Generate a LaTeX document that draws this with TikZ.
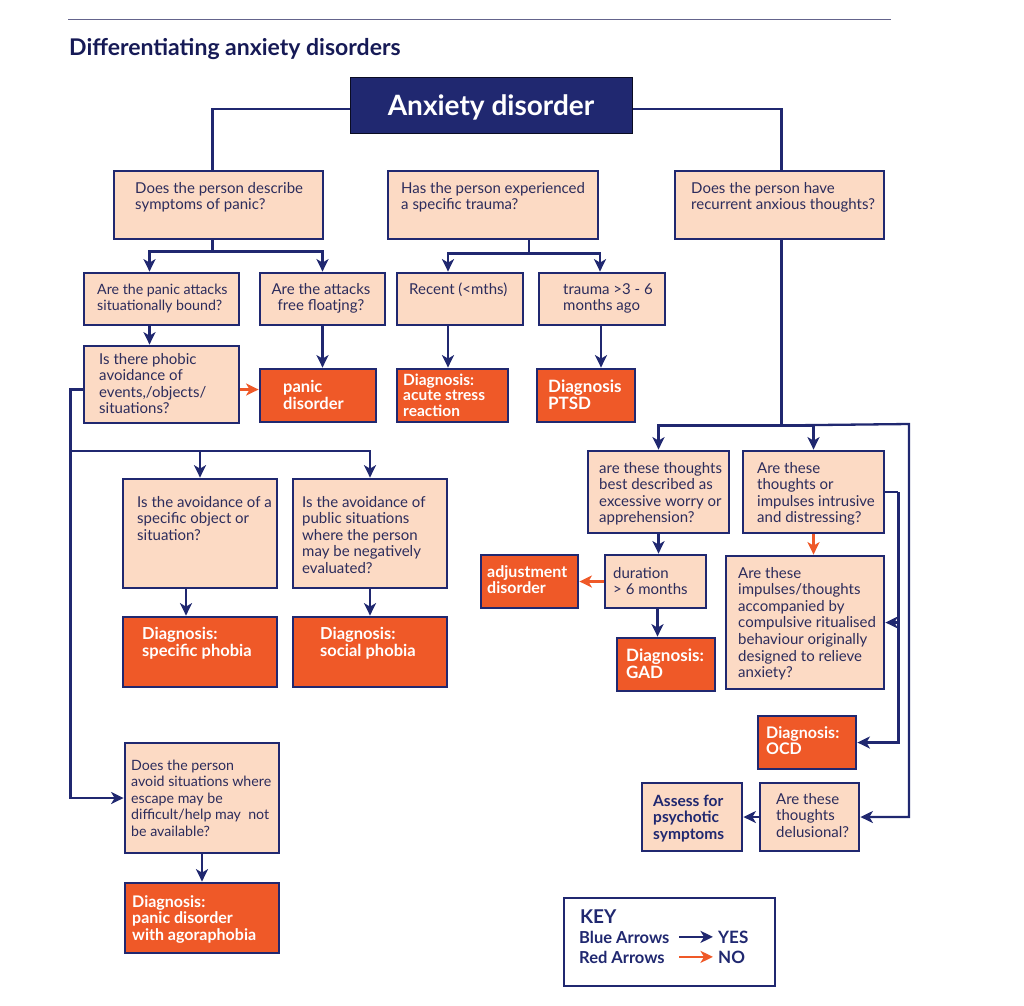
\documentclass[tikz,border=0pt]{standalone}
\usepackage{fontspec}
\setmainfont{Lato}
\usetikzlibrary{arrows.meta,fit}
\definecolor{navy}{RGB}{32,40,112}
\definecolor{darknavy}{RGB}{22,26,86}
\definecolor{peach}{RGB}{252,218,196}
\definecolor{orng}{RGB}{239,89,40}
\definecolor{txtc}{RGB}{44,44,92}
\definecolor{rulec}{RGB}{100,100,140}
\newcommand{\mylines}[1]{\begin{tabular}[t]{@{}l@{}}#1\end{tabular}}
\newcommand{\mylinesc}[1]{\begin{tabular}[t]{@{}c@{}}#1\end{tabular}}
\begin{document}
\begin{tikzpicture}[x=1pt,y=-1pt,
  qbox/.style={draw=navy, line width=2.8pt, fill=peach, inner sep=0pt},
  dbox/.style={draw=navy, line width=2.8pt, fill=orng, inner sep=0pt},
  qtxt/.style={anchor=base west, inner sep=0pt, text=txtc, font=\fontsize{15}{16.6}\selectfont},
  dtxt/.style={anchor=base west, inner sep=0pt, text=white, font=\bfseries\fontsize{16}{16}\selectfont},
  ln/.style={draw=navy, line width=2.3pt},
  yesarr/.style={draw=navy, line width=2.3pt, -{Stealth[length=12.5pt,width=12pt,inset=3.5pt]}},
  noarr/.style={draw=orng, line width=2.3pt, -{Stealth[length=12.5pt,width=12pt,inset=3.5pt]}},
]
\useasboundingbox (0,0) rectangle (1024,1005);
% header
\coordinate (ruleL) at (68,19);
\coordinate (ruleR) at (891,19);
\draw[rulec, line width=1pt] (ruleL) -- (ruleR);
\node[anchor=base west, inner sep=0pt, text=darknavy, font=\bfseries\fontsize{23}{26}\selectfont] (title) at (69,55) {Differentiating anxiety disorders};
% top box
\node[fit={(350,77)(632,133)}, draw=black!70!navy, line width=1pt, fill=navy, inner sep=0pt] (top) {};
\node[anchor=base, inner sep=0pt, text=white, font=\bfseries\fontsize{28}{30}\selectfont] (topt) at (491,115) {Anxiety disorder};
% level 1
\node[qbox, fit={(114,171)(323,239)}] (Q1) {};
\node[qtxt] (Q1t) at (135,193) {\mylines{Does the person describe\\symptoms of panic?}};
\node[qbox, fit={(388,171)(598,239)}] (Q2) {};
\node[qtxt] (Q2t) at (401,193) {\mylines{Has the person experienced\\a specific trauma?}};
\node[qbox, fit={(675,171)(884,239)}] (Q3) {};
\node[qtxt] (Q3t) at (691,193) {\mylines{Does the person have\\recurrent anxious thoughts?}};
% level 2
\node[qbox, fit={(84,273)(239,325)}] (A1) {};
\node[qtxt, font=\fontsize{14.2}{16.6}\selectfont] (A1t) at (97,294) {\mylines{Are the panic attacks\\situationally bound?}};
\node[qbox, fit={(260,273)(385,325)}] (A2) {};
\node[qtxt, anchor=base] (A2t) at (321,294) {\mylinesc{Are the attacks\\free floatjng?}};
\node[qbox, fit={(397,273)(523,325)}] (B1) {};
\node[qtxt] (B1t) at (409,294) {Recent (<mths)};
\node[qbox, fit={(539,273)(665,325)}] (B2) {};
\node[qtxt] (B2t) at (563,294) {\mylines{trauma >3 - 6\\months ago}};
% level 3
\node[qbox, fit={(84,346)(239,423)}] (A3) {};
\node[qtxt] (A3t) at (99,364) {\mylines{Is there phobic\\avoidance of\\events,/objects/\\situations?}};
\node[dbox, fit={(260,369)(376,422)}] (PD) {};
\node[dtxt, font=\bfseries\fontsize{16.5}{16.5}\selectfont] (PDt) at (283,392) {\mylines{panic\\disorder}};
\node[dbox, fit={(397,369)(508,422)}] (ASR) {};
\node[dtxt, font=\bfseries\fontsize{15.5}{15.5}\selectfont] (ASRt) at (403,385) {\mylines{Diagnosis:\\acute stress\\reaction}};
\node[dbox, fit={(537,369)(635,422)}] (PTSD) {};
\node[dtxt, font=\bfseries\fontsize{17}{16.5}\selectfont] (PTSDt) at (548,392) {\mylines{Diagnosis\\PTSD}};
% C level
\node[qbox, fit={(123,479)(277,588)}] (C1) {};
\node[qtxt] (C1t) at (137,507) {\mylines{Is the avoidance of a\\specific object or\\situation?}};
\node[qbox, fit={(293,479)(447,588)}] (C2) {};
\node[qtxt] (C2t) at (302,507) {\mylines{Is the avoidance of\\public situations\\where the person\\may be negatively\\evaluated?}};
\node[dbox, fit={(123,617)(277,687)}] (D1) {};
\node[dtxt, font=\bfseries\fontsize{16.5}{17.5}\selectfont] (D1t) at (142,639) {\mylines{Diagnosis:\\specific phobia}};
\node[dbox, fit={(293,617)(447,687)}] (D2) {};
\node[dtxt, font=\bfseries\fontsize{16.5}{17.5}\selectfont] (D2t) at (320,639) {\mylines{Diagnosis:\\social phobia}};
\node[qbox, fit={(125,743)(279,853)}] (E1) {};
\node[qtxt, font=\fontsize{14.2}{16.6}\selectfont] (E1t) at (131,770) {\mylines{Does the person\\avoid situations where\\escape may be\\difficult/help may\ \ not\\be available?}};
\node[dbox, fit={(125,883)(279,953)}] (F1) {};
\node[dtxt] (F1t) at (132,907) {\mylines{Diagnosis:\\panic disorder\\with agoraphobia}};
% right side
\node[qbox, fit={(588,451)(729,533)}] (G1) {};
\node[qtxt] (G1t) at (599,473) {\mylines{are these thoughts\\best described as\\excessive worry or\\apprehension?}};
\node[qbox, fit={(743,451)(884,533)}] (G2) {};
\node[qtxt] (G2t) at (757,473) {\mylines{Are these\\thoughts or\\impulses intrusive\\and distressing?}};
\node[qbox, fit={(605,555)(706,608)}] (H1) {};
\node[qtxt] (H1t) at (613,578) {\mylines{duration\\> 6 months}};
\node[dbox, fit={(481,555)(578,608)}] (AD) {};
\node[dtxt] (ADt) at (487,577) {\mylines{adjustment\\disorder}};
\node[dbox, fit={(617,638)(715,691)}] (GAD) {};
\node[dtxt, font=\bfseries\fontsize{17}{16.5}\selectfont] (GADt) at (626,661) {\mylines{Diagnosis:\\GAD}};
\node[qbox, fit={(726,556)(884,689)}] (H2) {};
\node[qtxt] (H2t) at (738,578) {\mylines{Are these\\impulses/thoughts\\accompanied by\\compulsive ritualised\\behaviour originally\\designed to relieve\\anxiety?}};
\node[dbox, fit={(758,716)(856,769)}] (OCD) {};
\node[dtxt] (OCDt) at (766,738) {\mylines{Diagnosis:\\OCD}};
\node[qbox, fit={(760,783)(859,851)}] (Del) {};
\node[qtxt] (Delt) at (776,804) {\mylines{Are these\\thoughts\\delusional?}};
\node[qbox, fit={(642,783)(742,851)}] (Ass) {};
\node[qtxt, text=navy, font=\bfseries\fontsize{15.5}{16.6}\selectfont] (Asst) at (653,806) {\mylines{Assess for\\psychotic\\symptoms}};
% key
\node[fit={(564,898)(775,986)}, draw=navy, line width=2pt, fill=white, inner sep=0pt] (key) {};
\node[anchor=base west, inner sep=0pt, text=navy, font=\bfseries\fontsize{19}{20}\selectfont] (keyt) at (580,923) {KEY};
\node[anchor=base west, inner sep=0pt, text=navy, font=\bfseries\fontsize{16.5}{16}\selectfont] (blueL) at (579,943) {Blue Arrows};
\node[anchor=base west, inner sep=0pt, text=navy, font=\bfseries\fontsize{17}{16}\selectfont] (yesL) at (718,943) {YES};
\node[anchor=base west, inner sep=0pt, text=navy, font=\bfseries\fontsize{16.5}{16}\selectfont] (redL) at (579,963) {Red Arrows};
\node[anchor=base west, inner sep=0pt, text=navy, font=\bfseries\fontsize{17}{16}\selectfont] (noL) at (718,963) {NO};
\draw[yesarr, line width=2pt] (yesL.west -| 679,0) -- ([xshift=-5pt]yesL.west);
\draw[noarr, line width=2pt] (noL.west -| 679,0) -- ([xshift=-5pt]noL.west);
% connectors top
\draw[ln] ([yshift=-4pt]top.west) -| ([xshift=-6pt]Q1.north);
\draw[ln] ([yshift=-4pt]top.east) -| ([xshift=2pt]Q3.north);
% Q1 bus
\draw[ln] ([xshift=-6pt]Q1.south) -- ++(0,11) coordinate (q1bus);
\draw[yesarr] (q1bus) -| ([xshift=-12pt]A1.north);
\draw[yesarr] (q1bus) -| (A2.north);
% Q2 bus
\draw[ln] ([xshift=36pt]Q2.south) -- ++(0,13) coordinate (q2bus);
\draw[yesarr] (q2bus) -| ([xshift=-12pt]B1.north);
\draw[yesarr] (q2bus) -| ([xshift=-2pt]B2.north);
% level 2 -> 3
\draw[yesarr] ([xshift=-12pt]A1.south) -- ([xshift=-12pt]A1.south |- A3.north);
\draw[yesarr] (A2.south) -- (A2.south |- PD.north);
\draw[noarr] ([yshift=-5pt]A3.east) -- ([yshift=-5pt]A3.east -| PD.west);
\draw[yesarr] ([xshift=-12pt]B1.south) -- ([xshift=-12pt]B1.south |- ASR.north);
\draw[yesarr] ([xshift=-1pt]B2.south) -- ([xshift=-1pt]B2.south |- PTSD.north);
% left bus
\draw[yesarr] ([yshift=-5pt]A3.west) -- ++(-12,0) coordinate (leftbus) |- (E1.west);
\coordinate (cbus) at (72,451);
\draw[yesarr] (cbus) -| (C1.north);
\draw[yesarr] (cbus) -| (C2.north);
\draw[yesarr] ([xshift=-14pt]C1.south) -- ([xshift=-14pt]D1.north);
\draw[yesarr] (C2.south) -- (C2.south |- D2.north);
\draw[yesarr] (E1.south) -- (E1.south |- F1.north);
% right bus
\draw[ln] ([xshift=2pt]Q3.south) -- ++(0,185) coordinate (rbus);
\coordinate (rcorner) at (909,424);
\draw[yesarr] (rbus) -| (G1.north);
\draw[yesarr] (rbus) -| (G2.north);
\draw[yesarr] (rbus) -- (rcorner) |- (Del.east);
\draw[ln] (G2.east) -- ++(13,0) coordinate (g2r);
\draw[yesarr] (g2r) |- (H2.east);
\draw[yesarr] (g2r) |- (OCD.east);
\draw[yesarr] (G1.south) -- (G1.south |- H1.north);
\draw[noarr] (G2.south) -- (G2.south |- H2.north);
\draw[noarr] (H1.west) -- (AD.east);
\draw[yesarr] ([xshift=2pt]H1.south) -- ([xshift=2pt]H1.south |- GAD.north);
\draw[yesarr] (Del.west) -- (Ass.east);
\end{tikzpicture}
\end{document}
